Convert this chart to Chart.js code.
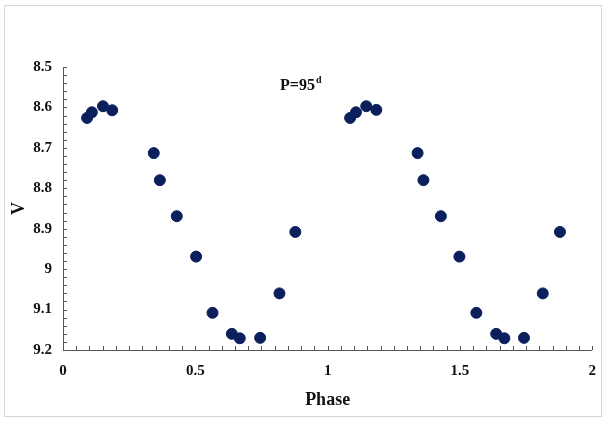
<!DOCTYPE html>
<html>
<head>
<meta charset="utf-8">
<script src="https://cdn.jsdelivr.net/npm/chart.js@4"></script>
<style>
    html, body { margin: 0; padding: 0; background: #fff; }
    #wrap {
        position: absolute; left: 4px; top: 5px; width: 598px; height: 412px;
        border: 1px solid #d6d6d6; box-sizing: border-box;
    }
    canvas { position: absolute; left: 0; top: 0; }
</style>
</head>
<body>
<div id="wrap"></div>
<canvas id="lightCurve" width="608" height="423"></canvas>
<script>
// phase-folded light curve
const phase1 = [0.091, 0.109, 0.151, 0.186, 0.343, 0.366, 0.430, 0.503, 0.565, 0.638, 0.668, 0.745, 0.818, 0.878];
const phase2 = [1.085, 1.107, 1.146, 1.184, 1.340, 1.362, 1.428, 1.498, 1.562, 1.637, 1.668, 1.742, 1.813, 1.878];
const mag1 = [8.626, 8.612, 8.597, 8.607, 8.713, 8.780, 8.869, 8.969, 9.108, 9.160, 9.171, 9.170, 9.060, 8.908];
const mag2 = [8.626, 8.612, 8.597, 8.606, 8.713, 8.780, 8.869, 8.969, 9.108, 9.160, 9.171, 9.170, 9.060, 8.908];
const xTicks = [0, 0.5, 1, 1.5, 2];
const yTicks = [8.5, 8.6, 8.7, 8.8, 8.9, 9, 9.1, 9.2];

const serif = '"Liberation Serif", "DejaVu Serif", serif';
const dotColor = '#0b1f5c';

const points = phase1.map((p, i) => ({ x: p, y: mag1[i] }))
    .concat(phase2.map((p, i) => ({ x: p, y: mag2[i] })));

// axis lines, major/minor ticks and the period label
const axisDeco = {
    id: 'axisDeco',
    afterDraw(chart) {
        const c = chart.ctx;
        const xs = chart.scales.x, ys = chart.scales.y;
        const left = xs.left, bottom = ys.bottom, top = ys.top, right = xs.right;
        c.save();
        c.strokeStyle = '#555';
        c.lineWidth = 1;
        c.beginPath();
        c.moveTo(left + 0.5, top);
        c.lineTo(left + 0.5, bottom + 0.5);
        c.lineTo(right, bottom + 0.5);
        c.stroke();

        c.beginPath();
        for (let v = 0; v <= 2.0001; v += 0.05) {
            const px = Math.round(xs.getPixelForValue(v)) + 0.5;
            c.moveTo(px, bottom);
            c.lineTo(px, bottom - 4);
        }
        for (let v = 8.5; v <= 9.2001; v += 0.02) {
            const py = Math.round(ys.getPixelForValue(v)) + 0.5;
            c.moveTo(left, py);
            c.lineTo(left + 4, py);
        }
        c.stroke();

        c.fillStyle = '#111';
        c.font = 'bold 16px ' + serif;
        c.textBaseline = 'alphabetic';
        c.textAlign = 'left';
        const tx = xs.getPixelForValue(0.82);
        const ty = ys.getPixelForValue(8.557);
        c.fillText('P=95', tx, ty);
        const w = c.measureText('P=95').width;
        c.font = 'bold 10px ' + serif;
        c.fillText('d', tx + w + 1, ty - 7);
        c.restore();
    }
};

new Chart(document.getElementById('lightCurve').getContext('2d'), {
    type: 'scatter',
    data: {
        datasets: [{
            label: 'V',
            data: points,
            backgroundColor: dotColor,
            borderColor: dotColor,
            pointRadius: 5.5,
            pointHoverRadius: 5.5
        }]
    },
    options: {
        responsive: false,
        animation: false,
        layout: { padding: { left: 0, right: 15, top: 67, bottom: 10 } },
        plugins: {
            legend: { display: false },
            tooltip: { enabled: false }
        },
        scales: {
            x: {
                type: 'linear',
                min: 0,
                max: 2,
                afterBuildTicks: (axis) => { axis.ticks = xTicks.map(v => ({ value: v })); },
                afterFit: (axis) => { axis.height = 63; },
                grid: { display: false, drawTicks: false },
                border: { display: false },
                ticks: {
                    color: '#111',
                    padding: 12,
                    font: { family: serif, size: 15, weight: 'bold' },
                    callback: (v) => String(v)
                },
                title: {
                    display: true,
                    text: 'Phase',
                    color: '#111',
                    padding: { top: 0, bottom: 2 },
                    font: { family: serif, size: 18, weight: 'bold' }
                }
            },
            y: {
                type: 'linear',
                reverse: true,
                min: 8.5,
                max: 9.2,
                afterBuildTicks: (axis) => { axis.ticks = yTicks.map(v => ({ value: v })); },
                afterFit: (axis) => { axis.width = 63; },
                grid: { display: false, drawTicks: false },
                border: { display: false },
                ticks: {
                    color: '#111',
                    padding: 11,
                    font: { family: serif, size: 15, weight: 'bold' },
                    callback: (v) => String(v)
                },
                title: {
                    display: true,
                    text: 'V',
                    color: '#111',
                    padding: { top: 9, bottom: 0 },
                    font: { family: serif, size: 18, weight: 'bold' }
                }
            }
        }
    },
    plugins: [axisDeco]
});
</script>
</body>
</html>
